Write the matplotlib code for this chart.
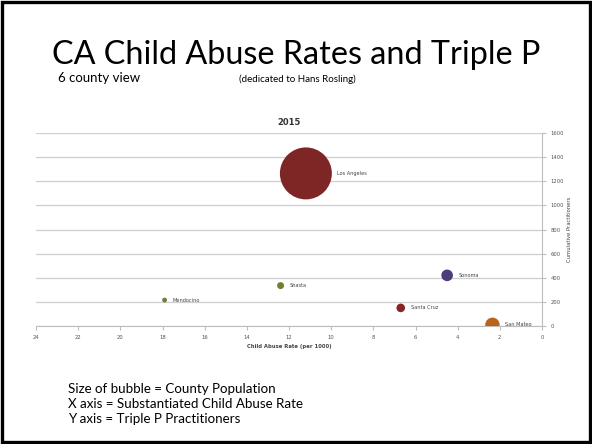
import matplotlib
matplotlib.use("Agg")
import matplotlib.pyplot as plt
from matplotlib.patches import Rectangle

counties = ["Los Angeles", "Shasta", "Mendocino", "Sonoma", "Santa Cruz", "San Mateo"]
abuse_rate = [11.2, 12.4, 17.9, 4.5, 6.7, 2.35]
practitioners = [1265, 335, 215, 420, 150, 10]
population = [10_000_000, 180_000, 88_000, 500_000, 275_000, 765_000]
colors = ["#7E2626", "#6F8030", "#708038", "#4C3C7C", "#8A2325", "#B8641C"]

x_ticks = list(range(0, 25, 2))
y_ticks = list(range(0, 1601, 200))

W, H = 592, 444
fig = plt.figure(figsize=(W / 100, H / 100), dpi=100)
fig.patch.set_facecolor("white")

# slide frame
fig.patches.append(Rectangle((0.003, 0.004), 0.994, 0.992, transform=fig.transFigure,
                             fill=False, edgecolor="black", linewidth=2.4))

font = ["Lato", "DejaVu Sans"]
fig.text(0.5, 1 - 64 / H, "CA Child Abuse Rates and Triple P", ha="center", va="baseline",
         fontsize=23.3, family=font)
fig.text(58 / W, 1 - 82 / H, "6 county view", ha="left", va="baseline", fontsize=9.5, family=font)
fig.text(239 / W, 1 - 82 / H, "(dedicated to Hans Rosling)", ha="left", va="baseline",
         fontsize=7, family=font)

ax = fig.add_axes([36 / W, 1 - 326 / H, (542 - 36) / W, (326 - 133) / H])
ax.set_xlim(24, 0)
ax.set_ylim(0, 1600)
ax.set_xticks(x_ticks)
ax.set_yticks(y_ticks)
ax.yaxis.tick_right()
ax.yaxis.set_label_position("right")
ax.grid(axis="y", color="#cfcfcf", linewidth=0.9)
ax.set_axisbelow(True)
for s in ["top", "left"]:
    ax.spines[s].set_visible(False)
ax.spines["right"].set_color("#bdbdbd")
ax.spines["bottom"].set_color("#bdbdbd")
ax.tick_params(axis="both", labelsize=3.8, colors="#bdbdbd", labelcolor="#555555",
               length=3, width=0.8)
ax.tick_params(axis="y", pad=3)

max_pop = max(population)
max_size = 1400
sizes = [p / max_pop * max_size for p in population]
ax.scatter(abuse_rate, practitioners, s=sizes, c=colors, edgecolors="none", zorder=3)

for name, x, y, s in zip(counties, abuse_rate, practitioners, sizes):
    r_pts = (s ** 0.5) / 2
    ax.annotate(name, (x, y), xytext=(r_pts + 4, 0), textcoords="offset points",
                ha="left", va="center", fontsize=3.6, color="#444444", zorder=4)

ax.set_title("2015", fontsize=6, fontweight="bold", color="#333333", pad=6)
ax.set_xlabel("Child Abuse Rate (per 1000)", fontsize=3.8, fontweight="bold",
              color="#444444", labelpad=3)
ax.set_ylabel("Cumulative Practitioners", fontsize=3.8, color="#444444", labelpad=2)

notes = ["Size of bubble = County Population",
         "X axis = Substantiated Child Abuse Rate",
         "Y axis = Triple P Practitioners"]
for i, t in enumerate(notes):
    fig.text(68 / W, 1 - (393 + 15 * i) / H, t, ha="left", va="baseline", fontsize=9.6,
             family=font)

fig.savefig("out.png", dpi=100)
